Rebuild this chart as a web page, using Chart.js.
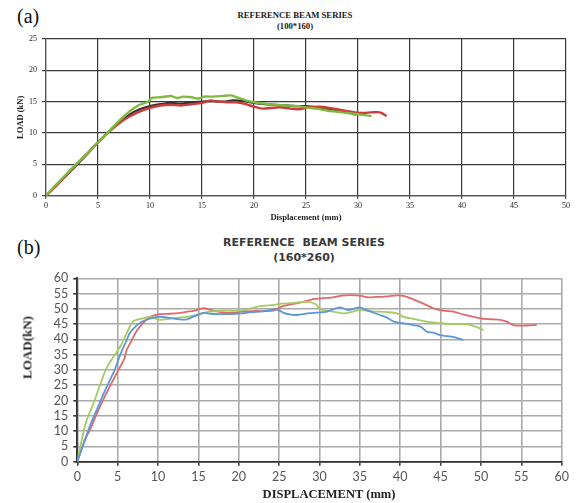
<!DOCTYPE html>
<html>
<head>
<meta charset="utf-8">
<script src="https://cdn.jsdelivr.net/npm/chart.js@4.4.1/dist/chart.umd.min.js"></script>
<style>
  body { margin: 0; background: #fff; }
  #wrap { position: relative; width: 578px; height: 503px; overflow: hidden; }
  canvas { position: absolute; left: 0; }
  .lbl { position: absolute; white-space: pre; line-height: 1; }
  .panel { font-family: "Liberation Serif", serif; font-size: 20px; color: #111; left: 17px; }
  .ta { font-family: "Liberation Serif", serif; font-weight: bold; font-size: 8.7px; color: #1a1a1a; text-align: center; width: 200px; left: 195px; }
  .tb { font-family: "DejaVu Sans", sans-serif; font-weight: bold; font-size: 11px; color: #3a3a3a; text-align: center; width: 240px; left: 184px; }
  .axb { font-family: "Liberation Serif", serif; font-weight: bold; color: #222; text-align: center; }
</style>
</head>
<body>
<div id="wrap">
  <div class="lbl panel" style="top:6px">(a)</div>
  <div class="lbl ta" style="top:11px">REFERENCE BEAM SERIES</div>
  <div class="lbl ta" style="top:22px">(100*160)</div>
  <canvas id="chartA" width="578" height="225" style="top:0"></canvas>

  <div class="lbl panel" style="top:237px">(b)</div>
  <div class="lbl tb" style="top:237px">REFERENCE&nbsp; BEAM SERIES</div>
  <div class="lbl tb" style="top:252px">(160*260)</div>
  <canvas id="chartB" width="578" height="278" style="top:225px"></canvas>
  <div class="lbl axb" style="font-size:13px; width:100px; left:-23px; top:341px; transform: rotate(-90deg);">LOAD(kN)</div>
  <div class="lbl axb" style="font-size:12.5px; width:200px; left:229px; top:488px;">DISPLACEMENT (mm)</div>
</div>
<script>
// ---- chart (a) : 100*160 ----
let xTicksA = [0, 5, 10, 15, 20, 25, 30, 35, 40, 45, 50];
let yTicksA = [0, 5, 10, 15, 20, 25];

let dispA_green = [0, 1, 2, 3, 4, 5, 6, 7, 8, 9, 9.8, 10.2, 11, 12, 12.6, 13.2, 14, 14.6, 15.2, 16, 17, 17.8, 18.5, 19.2, 20, 21, 22, 23, 24, 25, 26, 27, 28, 29, 30, 31.3];
let loadA_green = [0, 1.8, 3.5, 5.2, 6.8, 8.5, 10.2, 11.9, 13.4, 14.5, 15.0, 15.6, 15.7, 15.9, 15.6, 15.8, 15.7, 15.5, 15.8, 15.8, 15.9, 16.0, 15.6, 15.2, 14.9, 14.7, 14.5, 14.4, 14.3, 14.1, 13.9, 13.6, 13.4, 13.2, 13.0, 12.7];

let dispA_red = [0, 1, 2, 3, 4, 5, 6, 7, 7.5, 8, 9, 10, 11, 12, 13, 14, 15, 15.8, 16.5, 17.5, 18.3, 19.2, 20, 20.8, 21.6, 22.5, 23.5, 24.3, 25.2, 26.3, 27.2, 28, 29, 29.7, 30.5, 31.3, 32.1, 32.75];
let loadA_red = [0, 1.6, 3.4, 5.1, 6.8, 8.5, 10.1, 11.5, 12.1, 12.6, 13.4, 14.0, 14.4, 14.5, 14.4, 14.6, 14.8, 15.2, 15.0, 14.9, 14.9, 14.6, 14.2, 13.9, 14.0, 14.1, 13.9, 13.8, 14.1, 14.2, 14.0, 13.8, 13.5, 13.3, 13.2, 13.3, 13.3, 12.7];

let dispA_black = [0, 2, 4, 6, 8, 9, 10, 11, 12, 13, 14, 15, 16, 17, 18, 19, 20, 21, 22, 23, 24, 25, 26, 27, 28, 29, 29.8];
let loadA_black = [0, 3.3, 6.7, 10.2, 12.9, 13.8, 14.3, 14.6, 14.8, 14.7, 14.9, 15.0, 15.1, 15.0, 15.2, 15.1, 14.8, 14.6, 14.5, 14.4, 14.3, 14.3, 14.1, 13.9, 13.6, 13.3, 12.9];

// ---- chart (b) : 160*260 ----
let xTicksB = [0, 5, 10, 15, 20, 25, 30, 35, 40, 45, 50, 55, 60];
let yTicksB = [0, 5, 10, 15, 20, 25, 30, 35, 40, 45, 50, 55, 60];

let dispB_blue = [0, 0.8, 1.6, 2.5, 3.3, 4.05, 4.7, 5.3, 5.9, 6.5, 7.2, 8, 9, 10, 11, 12, 13, 13.6, 14.5, 15.6, 16.5, 18, 19, 20.2, 21.5, 23, 24.7, 25.5, 26.3, 27.2, 28.5, 29.7, 30.8, 31.8, 32.6, 33.5, 34.2, 35, 36, 37.5, 38.3, 39.2, 40.3, 41.6, 42.5, 43.3, 44.1, 44.9, 45.8, 46.8, 47.8];
let loadB_blue = [0, 6, 12, 17.5, 22.5, 26.7, 30.5, 34.9, 38.5, 42, 44.2, 45.8, 46.8, 47.4, 47.2, 46.8, 46.5, 46.6, 47.6, 48.7, 48.4, 48.3, 48.3, 48.5, 48.9, 49.2, 49.8, 48.8, 48.2, 48.0, 48.5, 48.8, 49.0, 50.0, 50.5, 49.6, 50.0, 50.5, 49.4, 48.0, 47.2, 45.8, 45.3, 44.7, 44.2, 42.5, 42.2, 41.4, 41.1, 40.7, 39.8];

let dispB_green = [0, 0.5, 1.16, 2, 2.8, 3.6, 4.4, 5.3, 6.1, 6.9, 8, 9, 10.2, 11.5, 12.5, 13.6, 15, 16.4, 18.5, 20.2, 21.5, 22.6, 24, 25.1, 26.5, 28.4, 29.5, 30.1, 31.5, 33, 34, 35, 36.5, 38.7, 39.6, 40.4, 41.5, 43.3, 45, 46.5, 48.3, 49.5, 50.3];
let loadB_green = [0, 6.5, 13.6, 19, 25, 30.5, 34, 37.6, 42, 45.8, 46.8, 47.4, 46.4, 46.8, 47.1, 47.4, 48.2, 49.1, 49.4, 49.4, 50.2, 50.9, 51.2, 51.6, 51.9, 52.3, 51.6, 49.8, 49.2, 48.5, 49.0, 49.6, 49.2, 48.9, 48.5, 47.4, 46.8, 45.8, 45.3, 45.0, 44.9, 44.0, 43.1];

let dispB_red = [0, 0.5, 1, 1.57, 2.3, 3.2, 4, 4.7, 5.3, 5.8, 6.1, 6.6, 7.4, 8.2, 9, 10.2, 11.5, 13, 14.5, 15.6, 16.6, 18, 19.5, 20.2, 22, 24.3, 25.1, 26, 27.2, 28.3, 29.2, 30.1, 31.5, 32.8, 33.8, 35, 35.9, 37, 38.5, 39.6, 40.5, 41.6, 42.8, 44.1, 45.3, 46.6, 48, 49.9, 51.2, 52.4, 53.2, 54, 55, 56, 56.9];
let loadB_red = [0, 4, 7.5, 10.4, 15, 20.2, 24.5, 28, 31, 33.5, 36.5, 39, 43, 45.5, 47.4, 48.3, 48.4, 48.8, 49.4, 50.2, 49.6, 48.8, 48.7, 49.1, 49.3, 49.4, 50.5, 51.2, 51.8, 52.5, 53.2, 53.4, 53.7, 54.3, 54.5, 54.3, 53.8, 53.9, 54.1, 54.4, 54.2, 53.1, 51.8, 50.2, 49.4, 49.1, 48.0, 46.9, 46.6, 46.4, 45.8, 44.7, 44.5, 44.6, 44.7];

function pts(xs, ys) {
  return xs.map((x, i) => ({ x: x, y: ys[i] }));
}

function line(xs, ys, color, w) {
  return {
    data: pts(xs, ys),
    borderColor: color,
    borderWidth: w,
    pointRadius: 0,
    showLine: true,
    tension: 0.3,
    fill: false
  };
}

// chart (a)
new Chart(document.getElementById('chartA'), {
  type: 'scatter',
  data: {
    datasets: [
      line(dispA_green, loadA_green, '#7fb940', 2.4),
      line(dispA_red, loadA_red, '#cf3a3a', 2.4),
      line(dispA_black, loadA_black, '#333333', 2.2)
    ]
  },
  options: {
    responsive: false,
    animation: false,
    devicePixelRatio: 1,
    layout: { padding: { left: 0, right: 12, top: 39, bottom: 0 } },
    plugins: { legend: { display: false }, tooltip: { enabled: false } },
    scales: {
      x: {
        type: 'linear', min: 0, max: 50,
        afterBuildTicks: s => { s.ticks = xTicksA.map(v => ({ value: v })); },
        afterFit: s => { s.height = 29.3; },
        grid: { color: '#3a3a3a', lineWidth: 1.2, tickLength: 3, tickColor: '#3a3a3a' },
        border: { color: '#555', width: 1.2 },
        ticks: { font: { family: 'Liberation Serif', size: 8 }, color: '#222', padding: 2, maxRotation: 0, autoSkip: false },
        title: { display: true, text: 'Displacement (mm)', font: { family: 'Liberation Serif', size: 8.5, weight: 'bold' }, color: '#222', padding: { top: 0, bottom: 2 } }
      },
      y: {
        type: 'linear', min: 0, max: 25,
        afterBuildTicks: s => { s.ticks = yTicksA.map(v => ({ value: v })); },
        afterFit: s => { s.width = 46; },
        grid: { color: '#3a3a3a', lineWidth: 1.2, tickLength: 4, tickColor: '#3a3a3a' },
        border: { color: '#555', width: 1.2 },
        ticks: { font: { family: 'Liberation Serif', size: 8 }, color: '#222', padding: 5, autoSkip: false },
        title: { display: true, text: 'LOAD (kN)', font: { family: 'Liberation Serif', size: 8.5, weight: 'bold' }, color: '#222', padding: { top: 16, bottom: 0 } }
      }
    }
  }
});

// chart (b)
new Chart(document.getElementById('chartB'), {
  type: 'scatter',
  data: {
    datasets: [
      line(dispB_blue, loadB_blue, '#5b97d6', 1.8),
      line(dispB_green, loadB_green, '#a6cb62', 1.8),
      line(dispB_red, loadB_red, '#de6a6a', 1.8)
    ]
  },
  options: {
    responsive: false,
    animation: false,
    devicePixelRatio: 1,
    layout: { padding: { left: 0, right: 16.3, top: 53.3, bottom: 0 } },
    plugins: { legend: { display: false }, tooltip: { enabled: false } },
    scales: {
      x: {
        type: 'linear', min: 0, max: 60,
        afterBuildTicks: s => { s.ticks = xTicksB.map(v => ({ value: v })); },
        afterFit: s => { s.height = 41.3; },
        grid: { color: '#aaaaaa', lineWidth: 1.6, tickLength: 4, tickColor: '#444' },
        border: { color: '#333', width: 1.8 },
        ticks: { font: { family: 'Lato', size: 12.5 }, color: '#555', padding: 4, maxRotation: 0, autoSkip: false },
        title: { display: false }
      },
      y: {
        type: 'linear', min: 0, max: 60,
        afterBuildTicks: s => { s.ticks = yTicksB.map(v => ({ value: v })); },
        afterFit: s => { s.width = 77.3; },
        grid: { color: '#aaaaaa', lineWidth: 1.6, tickLength: 4, tickColor: '#333' },
        border: { color: '#333', width: 1.8 },
        ticks: { font: { family: 'Lato', size: 12.5 }, color: '#555', padding: 5, autoSkip: false },
        title: { display: false }
      }
    }
  }
});
</script>
</body>
</html>
